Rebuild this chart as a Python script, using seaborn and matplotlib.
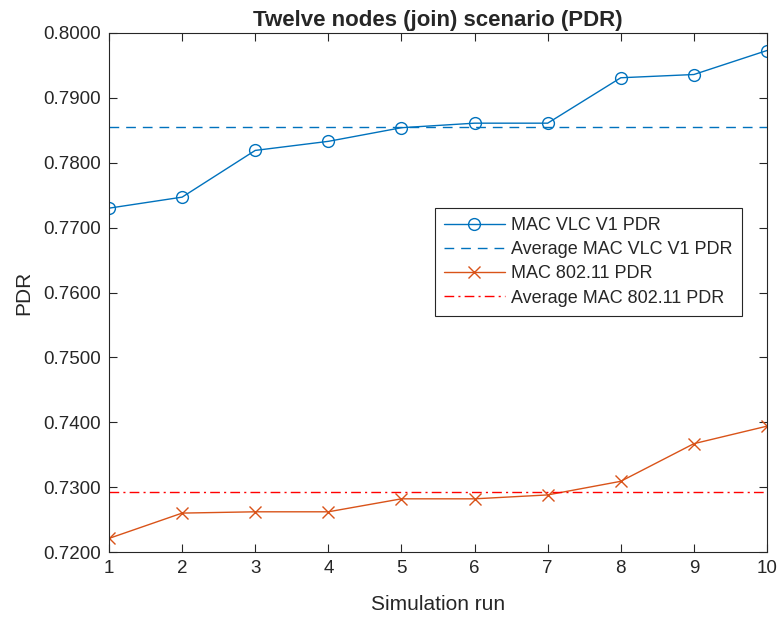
import matplotlib
matplotlib.use("Agg")
import matplotlib.pyplot as plt
import seaborn as sns
import pandas as pd
import numpy as np
from matplotlib.lines import Line2D

runs = [1, 2, 3, 4, 5, 6, 7, 8, 9, 10]
vlc_pdr = [0.7730, 0.7747, 0.7819, 0.7833, 0.7854, 0.7861, 0.7861, 0.7931, 0.7936, 0.7973]
wifi_pdr = [0.7221, 0.7260, 0.7262, 0.7262, 0.7282, 0.7282, 0.7288, 0.7309, 0.7367, 0.7394]
avg_vlc = 0.78546
avg_wifi = 0.72927
y_ticks = [0.72, 0.73, 0.74, 0.75, 0.76, 0.77, 0.78, 0.79, 0.80]
labels = ["MAC VLC V1 PDR", "Average MAC VLC V1 PDR", "MAC 802.11 PDR", "Average MAC 802.11 PDR"]

sns.set_style("ticks")
plt.rcParams["font.family"] = ["Liberation Sans", "DejaVu Sans"]

BLUE = "#0072BD"
ORANGE = "#D95319"
RED = "#FF0000"
TXT = "#262626"

df = pd.DataFrame({"run": runs, "vlc": vlc_pdr, "wifi": wifi_pdr})

fig = plt.figure(figsize=(7.77, 6.19), dpi=100)
ax = fig.add_axes([0.1403, 0.1082, 0.8468, 0.8385])

sns.lineplot(data=df, x="run", y="vlc", ax=ax, color=BLUE, lw=1.0, marker="o",
             markersize=8.5, markerfacecolor="none", markeredgecolor=BLUE, markeredgewidth=1.0)
ax.axhline(avg_vlc, color=BLUE, lw=1.0, linestyle=(0, (7, 5)))
sns.lineplot(data=df, x="run", y="wifi", ax=ax, color=ORANGE, lw=1.0, marker="x",
             markersize=8.5, markeredgecolor=ORANGE, markeredgewidth=1.0)
ax.axhline(avg_wifi, color=RED, lw=1.0, linestyle=(0, (7, 3, 1.5, 3)))

ax.set_xlim(1, 10)
ax.set_ylim(0.72, 0.80)
ax.set_xticks(runs)
ax.set_xticklabels([str(r) for r in runs])
ax.set_yticks(y_ticks)
ax.set_yticklabels([f"{v:.4f}" for v in y_ticks])
ax.tick_params(direction="in", length=6, width=0.8, top=True, right=True,
               labelsize=13.5, colors=TXT, pad=6)
for s in ax.spines.values():
    s.set_visible(True)
    s.set_linewidth(0.8)
    s.set_color(TXT)

ax.set_xlabel("Simulation run", fontsize=15, color=TXT, labelpad=13)
ax.set_ylabel("PDR", fontsize=15, color=TXT, labelpad=7)
ax.set_title("Twelve nodes (join) scenario (PDR)", fontsize=16, fontweight="bold", pad=5)

handles = [
    Line2D([], [], color=BLUE, lw=1.0, marker="o", markersize=8.5, markerfacecolor="none"),
    Line2D([], [], color=BLUE, lw=1.0, linestyle=(0, (7, 5))),
    Line2D([], [], color=ORANGE, lw=1.0, marker="x", markersize=8.5),
    Line2D([], [], color=RED, lw=1.0, linestyle=(0, (7, 3, 1.5, 3))),
]
leg = ax.legend(handles, labels, loc="upper right", bbox_to_anchor=(0.962, 0.663),
                fontsize=13, frameon=True, fancybox=False, edgecolor=TXT,
                framealpha=1, handlelength=3.4, borderpad=0.5, labelspacing=0.4,
                handletextpad=0.35, borderaxespad=0)
leg.get_frame().set_linewidth(0.8)

fig.savefig("out.png", dpi=100)
